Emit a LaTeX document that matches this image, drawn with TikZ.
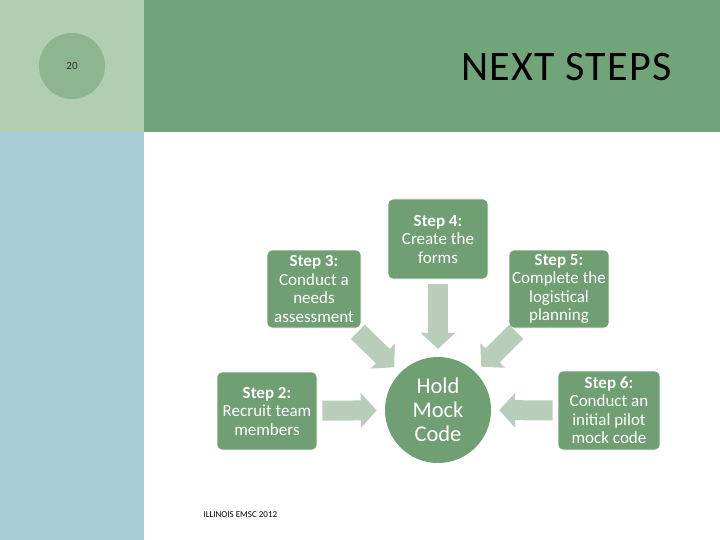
\documentclass[tikz,border=0pt]{standalone}
\usepackage{fontspec}
\setmainfont{Carlito}
\usepackage{tikz}
\usetikzlibrary{arrows.meta}
\definecolor{sidegreen}{HTML}{B0CEB2}
\definecolor{bandgreen}{HTML}{72A479}
\definecolor{sideblue}{HTML}{A8CCD7}
\definecolor{pagegreen}{HTML}{8DB58F}
\definecolor{stepgreen}{HTML}{6F9F72}
\definecolor{arrowgrey}{HTML}{B9CDBB}
\tikzset{
  stepbox/.style={fill=stepgreen,draw=white,line width=0.6pt,rounded corners=5pt,
                  minimum width=100pt,minimum height=78pt,inner sep=1pt,align=center,
                  text=white,font=\fontsize{17}{18.5}\selectfont},
  hub/.style={circle,fill=stepgreen,minimum size=106pt,inner sep=0pt,align=center,
              text=white,font=\fontsize{22.5}{24}\selectfont},
  feed/.style={arrowgrey,line width=20pt,
               -{Triangle[length=16pt,width=34pt]},shorten <=5pt,shorten >=8pt},
}

\begin{document}
\begin{tikzpicture}[x=1pt,y=-1pt]
  \path[use as bounding box] (0,0) rectangle (720,540);
  % slide frame
  \fill[sidegreen] (0,0) rectangle (144,132);
  \fill[bandgreen] (144,0) rectangle (720,132);
  \fill[sideblue] (0,132) rectangle (144,540);
  \node[circle,fill=pagegreen,minimum size=66pt,inner sep=0pt,
        font=\fontsize{11}{12}\selectfont,text=black!80] (page) at (72,66) {20};
  \node[anchor=east,font=\fontsize{42}{44}\selectfont\addfontfeatures{LetterSpace=3}]
    (title) at (675,67) {NEXT STEPS};

  % steps around the mock code
  \node[hub] (hub) at (438,410) {Hold\\Mock\\Code};
  \node[stepbox] (s2) at (267,411) {\textbf{Step 2:}\\Recruit team\\members};
  \node[stepbox,minimum width=94pt] (s3) at (314,289)
    {\textbf{Step 3:}\\Conduct a\\needs\\assessment};
  \node[stepbox,minimum height=80pt] (s4) at (438,239)
    {\textbf{Step 4:}\\Create the\\forms};
  \node[stepbox] (s5) at (559,289)
    {\textbf{Step 5:}\\Complete the\\logistical\\planning};
  \node[stepbox,minimum width=102pt,minimum height=79pt] (s6) at (609,410.5)
    {\textbf{Step 6:}\\Conduct an\\initial pilot\\mock code};

  \draw[feed] (s2) -- (hub);
  \draw[feed] (s3) -- (hub);
  \draw[feed] (s4) -- (hub);
  \draw[feed] (s5) -- (hub);
  \draw[feed] (s6) -- (hub);

  \node[anchor=west,font=\fontsize{9}{10}\selectfont] (foot) at (200,515)
    {ILLINOIS EMSC 2012};
\end{tikzpicture}
\end{document}
